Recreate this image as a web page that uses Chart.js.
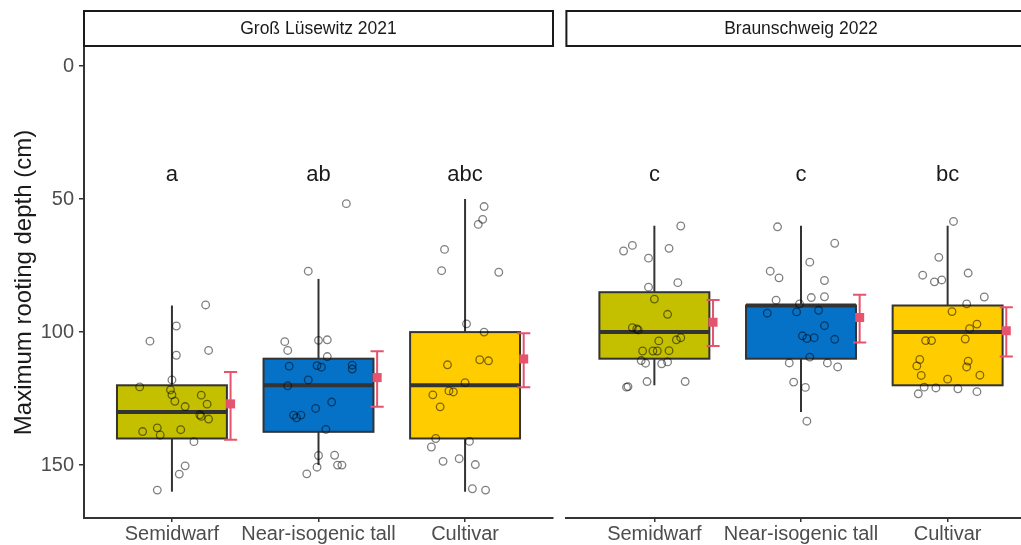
<!DOCTYPE html>
<html>
<head>
<meta charset="utf-8">
<script src="https://cdn.jsdelivr.net/npm/chart.js@4.4.1/dist/chart.umd.min.js"></script>
<style>
  html, body { margin: 0; padding: 0; background: #fff; overflow: hidden; width: 1021px; height: 545px; }
  canvas { position: absolute; top: 0; }
  #left { left: 0; }
  #right { left: 560px; }
</style>
</head>
<body>
<canvas id="left" width="560" height="545"></canvas>
<canvas id="right" width="482" height="545"></canvas>
<script>
// categories
var groups = ['Semidwarf', 'Near-isogenic tall', 'Cultivar'];
var sites = ['Groß Lüsewitz 2021', 'Braunschweig 2022'];
var yTicks = [0, 50, 100, 150];
var yTitle = 'Maximum rooting depth (cm)';

// box stats: [lower whisker, q1, median, q3, upper whisker]
var glBox = [[90, 120, 130, 140, 160], [80, 110, 120, 137.5, 150], [50, 100, 120, 140, 160]];
var bsBox = [[60, 85, 100, 110, 120], [60, 90, 90, 110, 130], [60, 90, 100, 120, 120]];

// mean and error bar ends
var glMean = [127, 117.1, 110.1];
var glErrLow = [115, 107.2, 100.4];
var glErrHigh = [140.5, 128.1, 120.7];
var bsMean = [96.3, 94.5, 99.5];
var bsErrLow = [87.9, 86, 90.7];
var bsErrHigh = [105.2, 103.9, 109.2];

// significance letters
var glLetters = ['a', 'ab', 'abc'];
var bsLetters = ['c', 'c', 'bc'];
var letterDepth = 41;

// single plants: depth and horizontal jitter
var glDepth = [
  [89.8, 97.7, 103.4, 106.9, 108.7, 118, 120.6, 121.7, 123.6, 126, 123.7, 127.1, 128, 131.1, 131.7, 132.7, 136, 137.4, 138.7, 136.7, 141.2, 150.3, 153.4, 159.4],
  [51.7, 77.1, 103.6, 106.9, 103.1, 102.9, 109.2, 112.8, 112.6, 113.2, 112.4, 113.9, 118, 120.2, 126.3, 128.7, 131.2, 131.2, 132.2, 136.6, 146.4, 146.3, 150, 150, 150.8, 153.3],
  [52.8, 57.6, 59.5, 68.9, 76.9, 77.5, 96.9, 100, 112.3, 110.4, 110.8, 119, 123.6, 122.1, 122.5, 128.1, 140, 143.2, 141.1, 148.6, 147.6, 149.8, 158.9, 159.4]
];
var glJitter = [
  [0.23, 0.03, -0.15, 0.25, 0.03, 0, -0.22, -0.01, 0, 0.02, 0.2, 0.24, 0.09, 0.19, 0.2, 0.25, -0.1, -0.2, -0.08, 0.06, 0.15, 0.09, 0.05, -0.1],
  [0.19, -0.07, -0.23, -0.21, 0, 0.06, 0.06, -0.2, -0.01, 0.02, 0.23, 0.23, -0.07, -0.21, 0.09, -0.02, -0.17, -0.12, -0.15, 0.05, 0, 0.11, 0.13, 0.16, -0.01, -0.08],
  [0.13, 0.12, 0.09, -0.14, -0.16, 0.23, 0.01, 0.13, -0.12, 0.1, 0.16, 0, -0.22, -0.11, -0.08, -0.17, -0.2, -0.23, 0.03, -0.15, -0.04, 0.07, 0.05, 0.14]
];
var bsDepth = [
  [60.1, 67.4, 69.5, 68.5, 72.2, 83.1, 81.4, 87.6, 93.3, 98.3, 98.8, 99.2, 103.3, 102.9, 102.1, 107.1, 107.1, 107.1, 107, 110.7, 111.7, 111.9, 111.2, 118.6, 118.6, 120.7, 120.5],
  [60.4, 66.6, 73.7, 77.1, 79.6, 80.6, 88, 87, 86.7, 89.4, 92.9, 92.4, 91.8, 97.6, 101.4, 102.4, 102.1, 102.7, 109.4, 111.6, 111.6, 113.1, 118.8, 120.8, 133.5],
  [58.4, 71.9, 78.6, 81.1, 80.4, 77.8, 86.8, 89.4, 92.3, 97, 98.7, 103.2, 103.2, 102.6, 110.3, 112.7, 116.3, 117.7, 110.9, 113.1, 116.2, 120.7, 121, 123.2, 121.3, 122.4]
];
var bsJitter = [
  [0.18, -0.15, -0.21, 0.1, -0.04, -0.04, 0.16, 0, 0.09, -0.15, -0.12, -0.11, 0.03, 0.15, 0.18, -0.08, -0.01, 0.02, 0.1, -0.09, -0.06, 0.05, 0.09, -0.05, 0.21, -0.19, -0.18],
  [-0.16, 0.23, 0.06, -0.21, -0.15, 0.16, -0.17, 0.07, 0.16, -0.01, -0.23, -0.03, 0.12, 0.16, 0.01, 0.04, 0.09, 0.23, 0.06, -0.08, 0.18, 0.25, -0.05, 0.03, 0.04],
  [0.04, -0.06, -0.17, -0.09, -0.04, 0.14, 0.25, 0.13, 0.03, 0.2, 0.15, -0.15, -0.11, 0.12, -0.19, -0.21, -0.18, 0, 0.14, 0.13, 0.22, -0.16, -0.08, -0.2, 0.07, 0.2]
];

var boxColors = ['#C4C000', '#0572C8', '#FFCC00'];
var errColor = '#E5546E';
var fontFamily = '"Liberation Sans", Arial, sans-serif';

function boxPlugin(site, box, errLow, errHigh, letters) {
  return {
    id: 'boxes',
    beforeDatasetsDraw: function(chart) {
      var x = chart.scales.x, y = chart.scales.y, ctx = chart.ctx;
      ctx.save();
      box.forEach(function(b, i) {
        var c = i + 1;
        var xc = x.getPixelForValue(c);
        var x0 = x.getPixelForValue(c - 0.375), x1 = x.getPixelForValue(c + 0.375);
        var yq1 = y.getPixelForValue(b[1]), yq3 = y.getPixelForValue(b[3]);
        ctx.strokeStyle = '#333';
        ctx.lineWidth = 2;
        ctx.beginPath();
        ctx.moveTo(xc, y.getPixelForValue(b[0]));
        ctx.lineTo(xc, y.getPixelForValue(b[4]));
        ctx.stroke();
        ctx.fillStyle = boxColors[i];
        ctx.fillRect(x0, yq1, x1 - x0, yq3 - yq1);
        ctx.strokeRect(x0, yq1, x1 - x0, yq3 - yq1);
        ctx.lineWidth = 4;
        ctx.beginPath();
        ctx.moveTo(x0, y.getPixelForValue(b[2]));
        ctx.lineTo(x1, y.getPixelForValue(b[2]));
        ctx.stroke();
      });
      ctx.restore();
    },
    afterDatasetsDraw: function(chart) {
      var x = chart.scales.x, y = chart.scales.y, ctx = chart.ctx;
      ctx.save();
      // error bars
      ctx.strokeStyle = errColor;
      ctx.lineWidth = 2;
      errLow.forEach(function(lo, i) {
        var c = i + 1.4;
        var xc = x.getPixelForValue(c);
        var xa = x.getPixelForValue(c - 0.045), xb = x.getPixelForValue(c + 0.045);
        var ylo = y.getPixelForValue(lo), yhi = y.getPixelForValue(errHigh[i]);
        ctx.beginPath();
        ctx.moveTo(xc, ylo); ctx.lineTo(xc, yhi);
        ctx.moveTo(xa, ylo); ctx.lineTo(xb, ylo);
        ctx.moveTo(xa, yhi); ctx.lineTo(xb, yhi);
        ctx.stroke();
      });
      // letters
      ctx.fillStyle = '#1a1a1a';
      ctx.font = '22px ' + fontFamily;
      ctx.textAlign = 'center';
      ctx.textBaseline = 'middle';
      letters.forEach(function(l, i) {
        ctx.fillText(l, x.getPixelForValue(i + 1), y.getPixelForValue(letterDepth));
      });
      ctx.restore();
    },
    afterDraw: function(chart) {
      var a = chart.chartArea, ctx = chart.ctx;
      ctx.save();
      ctx.fillStyle = '#fff';
      ctx.strokeStyle = '#1a1a1a';
      ctx.lineWidth = 2;
      ctx.fillRect(a.left, 11, a.right - a.left, 35);
      ctx.strokeRect(a.left, 11, a.right - a.left, 35);
      ctx.fillStyle = '#1a1a1a';
      ctx.font = '17.5px ' + fontFamily;
      ctx.textAlign = 'center';
      ctx.textBaseline = 'middle';
      ctx.fillText(site, (a.left + a.right) / 2, 29);
      ctx.restore();
    }
  };
}

function makePanel(id, site, box, mean, errLow, errHigh, letters, depth, jitter, showY) {
  var pts = [];
  depth.forEach(function(arr, g) {
    arr.forEach(function(v, k) {
      pts.push({x: g + 1 + jitter[g][k], y: v});
    });
  });
  var means = mean.map(function(m, i) { return {x: i + 1.4, y: m}; });

  return new Chart(document.getElementById(id).getContext('2d'), {
    type: 'scatter',
    data: {
      datasets: [{
        label: 'Mean',
        data: means,
        pointStyle: 'rect',
        pointRadius: 6.4,
        backgroundColor: errColor,
        borderColor: errColor,
        borderWidth: 0
      }, {
        label: 'Plants',
        data: pts,
        pointStyle: 'circle',
        pointRadius: 3.8,
        backgroundColor: 'rgba(0,0,0,0)',
        borderColor: 'rgba(0,0,0,0.5)',
        borderWidth: 1.3
      }]
    },
    options: {
      responsive: false,
      animation: false,
      layout: {padding: {top: 47, left: showY ? 0 : 5, right: showY ? 7 : 0, bottom: 0}},
      scales: {
        x: {
          type: 'linear',
          min: 0.4,
          max: 3.6,
          afterBuildTicks: function(s) { s.ticks = [1, 2, 3].map(function(v) { return {value: v}; }); },
          afterFit: function(s) { s.height = 27; },
          grid: {display: true, drawOnChartArea: false, drawTicks: true, tickLength: 4, color: '#333', lineWidth: 1.5},
          border: {display: true, color: '#333', width: 2},
          ticks: {
            callback: function(v) { return groups[Math.round(v) - 1]; },
            color: '#4d4d4d',
            font: {family: fontFamily, size: 20},
            padding: 0,
            maxRotation: 0,
            autoSkip: false
          }
        },
        y: {
          type: 'linear',
          reverse: true,
          min: -7.2,
          max: 169.9,
          display: showY,
          afterBuildTicks: function(s) { s.ticks = yTicks.map(function(v) { return {value: v}; }); },
          afterFit: function(s) { if (showY) s.width = 84; },
          grid: {display: true, drawOnChartArea: false, drawTicks: true, tickLength: 5, color: '#333', lineWidth: 1.5},
          border: {display: true, color: '#333', width: 2},
          ticks: {color: '#4d4d4d', font: {family: fontFamily, size: 20}, padding: 5},
          title: {
            display: true,
            text: yTitle,
            color: '#1a1a1a',
            font: {family: fontFamily, size: 24},
            padding: {top: 10}
          }
        }
      },
      plugins: {
        legend: {display: false},
        tooltip: {enabled: false}
      }
    },
    plugins: [boxPlugin(site, box, errLow, errHigh, letters)]
  });
}

makePanel('left', sites[0], glBox, glMean, glErrLow, glErrHigh, glLetters, glDepth, glJitter, true);
makePanel('right', sites[1], bsBox, bsMean, bsErrLow, bsErrHigh, bsLetters, bsDepth, bsJitter, false);
</script>
</body>
</html>
